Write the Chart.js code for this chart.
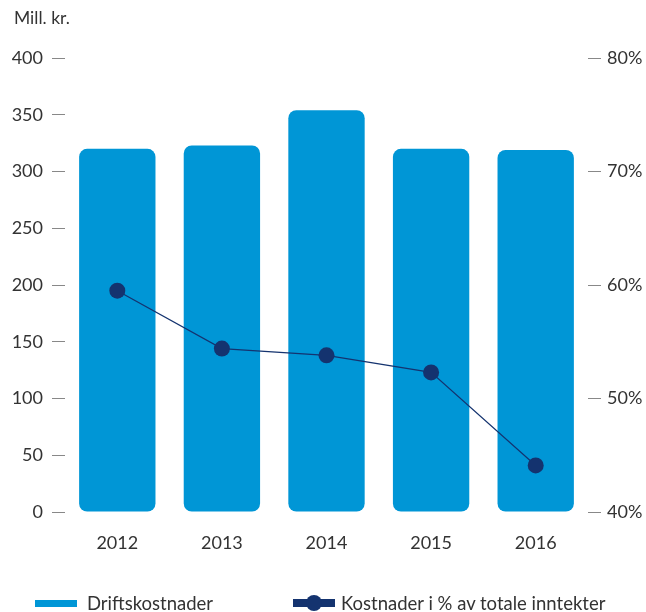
<!DOCTYPE html>
<html>
<head>
<meta charset="utf-8">
<script src="https://cdn.jsdelivr.net/npm/chart.js@4/dist/chart.umd.min.js"></script>
<style>
  html, body { margin: 0; padding: 0; background: #fff; }
  #wrap { position: relative; width: 646px; height: 612px; font-family: Lato, "Open Sans", sans-serif; color: #333; }
  #chart { position: absolute; left: 0; top: 0; }
  .unit { position: absolute; left: 14px; top: 7px; font-size: 17.5px; color: #333; }
  .legend { position: absolute; top: 592px; height: 22px; display: flex; align-items: center; font-size: 18.5px; color: #333; white-space: nowrap; }
  .sw-bar { width: 42px; height: 7px; background: #0096D6; margin-right: 10px; }
  .sw-line { position: relative; width: 42px; height: 8px; background: #14336F; margin-right: 6px; }
  .sw-line::after { content: ""; position: absolute; left: 13px; top: -4px; width: 16px; height: 16px; border-radius: 50%; background: #14336F; }
</style>
</head>
<body>
<div id="wrap">
  <canvas id="chart" width="646" height="612"></canvas>
  <div class="unit">Mill. kr.</div>
  <div class="legend" style="left:35px"><span class="sw-bar"></span>Driftskostnader</div>
  <div class="legend" style="left:293px"><span class="sw-line"></span>Kostnader i % av totale inntekter</div>
</div>
<script>
// Operating costs (MNOK) and costs as share of total income (%)
const years = ['2012', '2013', '2014', '2015', '2016'];
const driftskostnader = [320, 323, 354, 320, 319];
const kostnadsandel = [59.5, 54.4, 53.8, 52.3, 44.1];

const barColor = '#0096D6';
const lineColor = '#14336F';
const textColor = '#333333';
const tickFont = { family: 'Lato, "Open Sans", sans-serif', size: 18 };

new Chart(document.getElementById('chart'), {
  data: {
    labels: years,
    datasets: [
      {
        type: 'line',
        label: 'Kostnader i % av totale inntekter',
        data: kostnadsandel,
        yAxisID: 'yPct',
        borderColor: lineColor,
        borderWidth: 1.2,
        backgroundColor: lineColor,
        pointBackgroundColor: lineColor,
        pointBorderColor: lineColor,
        pointRadius: 8,
        pointBorderWidth: 0,
        tension: 0,
        order: 0
      },
      {
        type: 'bar',
        label: 'Driftskostnader',
        data: driftskostnader,
        yAxisID: 'y',
        backgroundColor: barColor,
        borderRadius: 8,
        borderSkipped: false,
        barPercentage: 1,
        categoryPercentage: 0.73,
        order: 1
      }
    ]
  },
  options: {
    responsive: false,
    animation: false,
    events: [],
    layout: { padding: { top: 58, left: 0, right: 0, bottom: 0 } },
    plugins: {
      legend: { display: false },
      tooltip: { enabled: false }
    },
    scales: {
      x: {
        offset: true,
        grid: { display: false, drawTicks: false },
        border: { display: false },
        ticks: { color: textColor, font: tickFont, padding: 20 },
        afterFit: (s) => { s.height = 100; }
      },
      y: {
        position: 'left',
        min: 0,
        max: 400,
        ticks: { stepSize: 50, color: textColor, font: tickFont, padding: 9 },
        grid: { drawOnChartArea: false, drawTicks: true, tickLength: 13, tickColor: '#888', tickWidth: 1 },
        border: { display: false },
        afterFit: (s) => { s.width = 65; }
      },
      yPct: {
        position: 'right',
        min: 40,
        max: 80,
        ticks: { stepSize: 10, color: textColor, font: tickFont, padding: 6, callback: (v) => v + '%' },
        grid: { drawOnChartArea: false, drawTicks: true, tickLength: 13, tickColor: '#888', tickWidth: 1 },
        border: { display: false },
        afterFit: (s) => { s.width = 58; }
      }
    }
  }
});
</script>
</body>
</html>
